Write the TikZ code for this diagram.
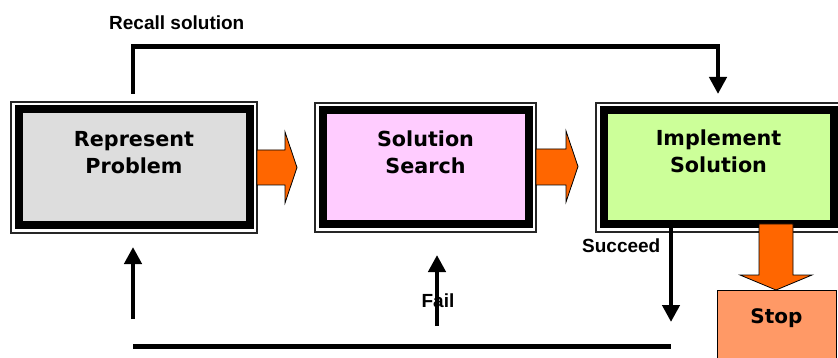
\documentclass[tikz,border=0pt]{standalone}
\usepackage{fontspec}
\setmainfont{DejaVu Sans}
\newfontfamily\labfont{Liberation Sans}
\usetikzlibrary{arrows.meta,calc}

\definecolor{boxgray}{HTML}{DDDDDD}
\definecolor{boxpink}{HTML}{FFCCFF}
\definecolor{boxgreen}{HTML}{CCFF99}
\definecolor{fatorange}{HTML}{FF6600}
\definecolor{stopfill}{HTML}{FF9966}

\tikzset{
  x=1pt, y=1pt,
  procbox/.style={draw=black, line width=8pt, outer sep=0pt, inner sep=0pt,
    rectangle},
  frameline/.style={draw=black!85, line width=1.2pt},
  boxtext/.style={font=\bfseries\fontsize{20.7}{27}\selectfont, align=center,
    inner sep=0pt, anchor=north},
  lab/.style={font=\labfont\bfseries\fontsize{19}{22}\selectfont, inner sep=0pt},
  conn/.style={line width=4.5pt, draw=black},
  tip/.style={-{Triangle[width=17pt,length=17pt]}},
  fatarrow/.style={fill=fatorange, draw=black, line width=0.8pt, line join=miter},
  stopbox/.style={draw=black, line width=1pt, fill=stopfill, inner sep=0pt,
    minimum width=119pt, text height=33pt, text depth=70pt,
    font=\bfseries\fontsize{20}{24}\selectfont, anchor=north},
}

\begin{document}
\begin{tikzpicture}
\useasboundingbox (0,0) rectangle (838,-358);
\clip (0,0) rectangle (838,-358);

% process boxes: thick black border, thin outer frame
\node[procbox, fill=boxgray,  minimum width=231pt, minimum height=116pt] (rep)  at (134,-167.5) {};
\node[procbox, fill=boxpink,  minimum width=206pt, minimum height=114pt] (srch) at (425.5,-167.5) {};
\node[procbox, fill=boxgreen, minimum width=230pt, minimum height=114pt] (impl) at (718.5,-167.5) {};
\foreach \b in {rep,srch,impl}{
  \draw[frameline] ([shift={(-7.5,7.5)}]\b.north west) rectangle ([shift={(7.5,-7.5)}]\b.south east);
}

\node[boxtext] (rep-t)  at (134,-130.8)   {Represent\\Problem};
\node[boxtext] (srch-t) at (425.5,-130.3) {Solution\\Search};
\node[boxtext] (impl-t) at (718.5,-129.3) {Implement\\Solution};

% wide orange arrows between the steps
\draw[fatarrow] (257,-150) -- (285,-150) -- (285,-132) -- (297,-167.5)
  -- (285,-203) -- (285,-185) -- (257,-185) -- cycle;
\draw[fatarrow] (536,-149) -- (566,-149) -- (566,-131) -- (578,-166.5)
  -- (566,-202) -- (566,-185) -- (536,-185) -- cycle;

% stop box and the orange arrow into it
\node[stopbox] (stop) at (776.5,-290) {Stop};
\draw[fatarrow] (759,-224) -- (759,-275) -- (740,-275) -- (776,-290)
  -- (812,-275) -- (793,-275) -- (793,-224) -- cycle;

% recall path over the top
\node[lab, anchor=base west] (recall) at (109,-30) {Recall solution};
\draw[conn, tip] ([shift={(-1,15.5)}]rep.north) -- ++(0,47.5) -| ([shift={(-0.5,16.5)}]impl.north);

% feedback paths underneath
\coordinate (succ-top) at (671,-228);
\coordinate (succ-end) at (671,-322);
\coordinate (loop-l)   at (133,-346);
\coordinate (loop-r)   at (671,-346);
\coordinate (up-l-bot) at (133,-319);
\coordinate (up-l-top) at (133,-247);
\coordinate (fail-bot) at (437,-326);
\coordinate (fail-top) at (437,-255);

\node[lab, anchor=base west] (succ) at (582,-253) {Succeed};
\node[lab, anchor=base] (fail) at (438,-307) {Fail};

\draw[conn, tip] (succ-top) -- (succ-end);
\draw[conn, line width=5pt] (loop-l) -- (loop-r);
\draw[conn, tip] (up-l-bot) -- (up-l-top);
\draw[conn, tip] (fail-bot) -- (fail-top);
\end{tikzpicture}
\end{document}
